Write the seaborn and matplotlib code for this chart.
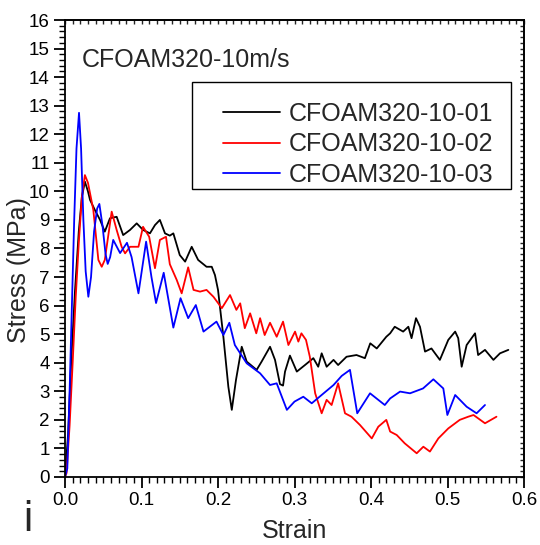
import pandas as pd
import matplotlib.pyplot as plt
from matplotlib.ticker import MultipleLocator
from matplotlib.patches import Rectangle
import seaborn as sns

# strain / stress readings for the three specimens
strain_01 = [0.0, 0.004, 0.008, 0.013, 0.018, 0.022, 0.026, 0.030, 0.0327, 0.039, 0.0458, 0.052,
             0.0588, 0.0675, 0.076, 0.085, 0.0937, 0.102, 0.111, 0.1176, 0.124, 0.1307, 0.137,
             0.1416, 0.15, 0.157, 0.1656, 0.174, 0.185, 0.1918, 0.196, 0.2, 0.207, 0.2135, 0.218,
             0.2235, 0.231, 0.2375, 0.2505, 0.257, 0.268, 0.2745, 0.281, 0.285, 0.2876, 0.294,
             0.303, 0.3137, 0.3246, 0.331, 0.3355, 0.342, 0.351, 0.357, 0.368, 0.381, 0.392,
             0.399, 0.4075, 0.42, 0.425, 0.431, 0.442, 0.4488, 0.453, 0.4588, 0.464, 0.4706,
             0.479, 0.49, 0.501, 0.51, 0.514, 0.5185, 0.525, 0.536, 0.54, 0.549, 0.56, 0.5686,
             0.5795]
stress_01 = [0.0, 1.5, 4.0, 6.5, 8.6, 9.8, 10.34, 10.0, 9.7, 9.35, 9.0, 8.59,
             9.06, 9.11, 8.47, 8.65, 8.88, 8.65, 8.53, 8.82, 9.0, 8.53, 8.45,
             8.53, 7.77, 7.54, 8.06, 7.6, 7.36, 7.36, 7.07, 6.55, 4.91, 3.16, 2.35,
             3.4, 4.56, 4.04, 3.75, 4.04, 4.56, 4.1, 3.25, 3.2, 3.69, 4.25,
             3.69, 3.92, 4.16, 3.86, 4.33, 3.86, 4.1, 3.92, 4.21, 4.27, 4.16,
             4.68, 4.5, 4.91, 5.03, 5.26, 5.09, 5.26, 4.86, 5.56, 5.26, 4.39,
             4.5, 4.1, 4.8, 5.09, 4.86, 3.86, 4.62, 5.03, 4.27, 4.45, 4.1, 4.33,
             4.45]

strain_02 = [0.0, 0.002, 0.006, 0.010, 0.014, 0.018, 0.022, 0.026, 0.030, 0.037, 0.0436, 0.048,
             0.052, 0.061, 0.0675, 0.074, 0.0785, 0.085, 0.096, 0.102, 0.110, 0.1176, 0.124,
             0.132, 0.137, 0.146, 0.1525, 0.161, 0.168, 0.1765, 0.185, 0.194, 0.205, 0.2157,
             0.224, 0.229, 0.235, 0.242, 0.25, 0.255, 0.261, 0.268, 0.2767, 0.285, 0.292,
             0.3007, 0.305, 0.309, 0.315, 0.32, 0.327, 0.3355, 0.342, 0.3485, 0.357, 0.366,
             0.3745, 0.3856, 0.401, 0.4095, 0.42, 0.425, 0.4336, 0.444, 0.4597, 0.4684, 0.477,
             0.488, 0.501, 0.516, 0.527, 0.534, 0.549, 0.564]
stress_02 = [0.0, 0.14, 1.8, 4.0, 6.3, 8.2, 9.8, 10.57, 10.3, 9.35, 7.6, 7.36,
             7.6, 9.29, 8.65, 8.06, 7.83, 8.06, 8.06, 8.76, 8.41, 7.31, 8.3,
             8.41, 7.45, 6.9, 6.43, 7.34, 6.55, 6.49, 6.55, 6.31, 5.91, 6.37,
             5.85, 6.08, 5.21, 5.73, 5.03, 5.56, 4.97, 5.4, 4.91, 5.44, 4.62,
             5.09, 4.74, 5.03, 4.8, 4.21, 2.93, 2.23, 2.7, 2.52, 3.28, 2.23,
             2.11, 1.82, 1.35, 1.76, 2.0, 1.59, 1.47, 1.18, 0.83, 1.06, 0.89,
             1.35, 1.7, 2.0, 2.11, 2.17, 1.88, 2.11]

strain_03 = [0.0, 0.003, 0.006, 0.009, 0.012, 0.015, 0.0183, 0.021, 0.024, 0.027, 0.0305, 0.034,
             0.038, 0.042, 0.0449, 0.049, 0.053, 0.0558, 0.059, 0.063, 0.072, 0.081, 0.087,
             0.096, 0.106, 0.113, 0.119, 0.129, 0.1416, 0.151, 0.161, 0.171, 0.181, 0.198,
             0.207, 0.2148, 0.222, 0.2375, 0.255, 0.268, 0.2767, 0.29, 0.30, 0.3115, 0.3225,
             0.351, 0.3617, 0.3725, 0.382, 0.3987, 0.418, 0.425, 0.438, 0.451, 0.468, 0.4815,
             0.4945, 0.4998, 0.51, 0.525, 0.538, 0.549]
stress_03 = [0.0, 0.3, 3.0, 6.0, 9.0, 11.5, 12.75, 11.5, 9.0, 7.2, 6.31, 7.0,
             8.6, 9.4, 9.56, 8.8, 7.8, 7.46, 7.7, 8.3, 7.84, 8.2, 7.7,
             6.43, 8.24, 7.0, 6.09, 7.15, 5.23, 6.26, 5.56, 6.02, 5.09, 5.44,
             4.97, 5.4, 4.62, 3.98, 3.63, 3.22, 3.28, 2.35, 2.64, 2.81, 2.58,
             3.22, 3.54, 3.75, 2.23, 2.93, 2.52, 2.75, 2.99, 2.93, 3.1, 3.42,
             3.1, 2.17, 2.87, 2.46, 2.23, 2.52]

labels = ['CFOAM320-10-01', 'CFOAM320-10-02', 'CFOAM320-10-03']
colors = ['#000000', '#ff0000', '#0000ff']

#build one long table for seaborn
frames = []
for lab, xs, ys in zip(labels, [strain_01, strain_02, strain_03], [stress_01, stress_02, stress_03]):
    frames.append(pd.DataFrame({'strain': xs, 'stress': ys, 'specimen': lab}))
df = pd.concat(frames, ignore_index=True)

sns.set_style('ticks')
plt.rcParams['font.family'] = ['Liberation Sans', 'DejaVu Sans']

fig = plt.figure(figsize=(5.4, 5.45), dpi=100)
ax = fig.add_axes([0.1204, 0.1248, 0.85, 0.8385])

sns.lineplot(data=df, x='strain', y='stress', hue='specimen', palette=colors,
             sort=False, estimator=None, linewidth=1.3, ax=ax)

ax.set_xlim(0, 0.6)
ax.set_ylim(0, 16)
ax.xaxis.set_major_locator(MultipleLocator(0.1))
ax.xaxis.set_minor_locator(MultipleLocator(0.01))
ax.yaxis.set_major_locator(MultipleLocator(1))
ax.yaxis.set_minor_locator(MultipleLocator(0.2))
ax.set_xticklabels([f'{v:.1f}' for v in ax.get_xticks()])

for side in ['left', 'bottom', 'top', 'right']:
    ax.spines[side].set_visible(True)
    ax.spines[side].set_linewidth(1.3)
    ax.spines[side].set_color('black')

ax.tick_params(which='major', direction='out', length=8, width=1.3, labelsize=13.5,
               colors='black', pad=3)
ax.tick_params(which='minor', direction='out', length=4.5, width=1.0, colors='black')

#top and right edges carry small inward ticks without labels
top = ax.secondary_xaxis('top')
top.xaxis.set_major_locator(MultipleLocator(0.1))
top.xaxis.set_minor_locator(MultipleLocator(0.01))
top.tick_params(which='both', direction='in', length=3, width=1.0, labeltop=False)
top.spines['top'].set_linewidth(1.3)
right = ax.secondary_yaxis('right')
right.yaxis.set_major_locator(MultipleLocator(1))
right.yaxis.set_minor_locator(MultipleLocator(0.2))
right.tick_params(which='both', direction='in', length=3, width=1.0, labelright=False)
right.spines['right'].set_linewidth(1.3)

ax.set_xlabel('Strain', fontsize=18, labelpad=7)
ax.set_ylabel('Stress (MPa)', fontsize=18)
ax.yaxis.set_label_coords(31 / 540, 1 - 270 / 545, transform=fig.transFigure)

#legend entries, with the frame drawn as a separate box
leg = ax.legend(loc='upper left', bbox_to_anchor=(223 / 540, 1 - 102 / 545),
                bbox_transform=fig.transFigure, fontsize=18, frameon=False,
                handlelength=2.28, handletextpad=0.36, labelspacing=0.25,
                borderpad=0, borderaxespad=0)
for line in leg.get_lines():
    line.set_linewidth(1.3)
fig.patches.append(Rectangle((192 / 540, 1 - 189 / 545), (511 - 192) / 540, (189 - 82) / 545,
                             transform=fig.transFigure, fill=False, edgecolor='black',
                             linewidth=1.0, zorder=5))

fig.text(82 / 540, 1 - 67 / 545, 'CFOAM320-10m/s', fontsize=18, va='baseline')
fig.text(23 / 540, 1 - 531 / 545, 'i', fontsize=30, va='baseline')

plt.savefig('out.png', dpi=100)
